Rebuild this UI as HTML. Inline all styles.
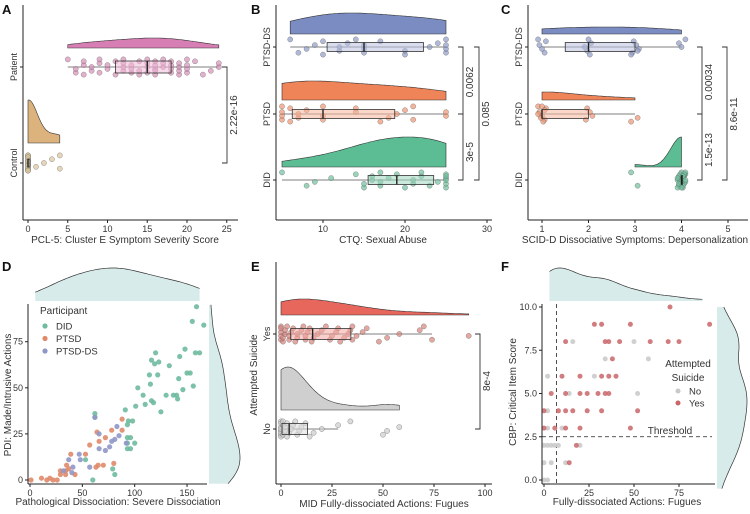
<!DOCTYPE html>
<html><head><meta charset="utf-8">
<style>
html,body{margin:0;padding:0;background:#fff;}
svg{display:block;font-family:"Liberation Sans",sans-serif;}
</style></head>
<body>
<svg id="fig" width="750" height="514" viewBox="0 0 750 514" xmlns="http://www.w3.org/2000/svg"></svg>
<script>
// ---------- DATA ----------
const aGroups = ["Patient","Control"];
const aPatient = [5,6,6,7,7,7,8,8,9,9,9,10,10,11,11,12,12,12,12,13,13,13,14,14,14,15,15,15,15,16,16,16,16,16,17,17,17,18,18,18,18,19,19,19,19,20,20,20,20,21,22,23,24,24];
const aControl = [0,0,0,0,0,0,0,0,0,0,0,0,0,0,0,1,2,3,4,4];
const aP = ["2.22e-16"];
const bGroups = ["PTSD-DS","PTSD","DID"];
const bDS = [6,7,8,9,10,10,12,12,13,14,15,15,15,17,20,20,23,24,25,25,25,25];
const bPTSD = [5,5,5,5,6,6,7,7,8,10,10,10,14,14,17,18,19,20,21,21,25,25];
const bDID = [5,8,9,11,14,15,15,16,16,17,17,17,18,19,20,21,21,22,22,23,24,25,25,25,25,25,25];
const bP = ["0.0062","3e-5","0.085"];
const cDS = [1,1,1,1,1,2,2,2,2,2,3,3,3,3,3,3,4,4,4];
const cPTSD = [1,1,1,1,1,1,1,1,1,1,2,2,2,2,3,3];
const cDID = [3,3,4,4,4,4,4,4,4,4,4,4,4,4,4,4,4,4,4,4,4,4,4,4,4,4,4];
const cP = ["0.00034","1.5e-13","8.6e-11"];
const dDIDx = [159,155,166,148,158,162,120,116,119,123,133,143,114,122,150,153,142,115,103,156,108,130,137,140,141,146,110,116,118,125,91,101,94,98,93,93,96,100,93,93,96,62,62,53,79,81,60];
const dDIDy = [94,86,84,71,69,69,69,65,63,64,62,67,57,57,58,58,55,52,50,51,46,46,46,46,44,49,41,43,42,37,38,40,32,32,30,23,23,20,20,17,17,36,34,11,6,3,0];
const dPTSDx = [1,11,16,19,22,26,29,29,34,35,39,34,37,43,53,57,63,65,70,66,72,78,80,88,88,64];
const dPTSDy = [0,1,0,1,0,0,3,5,5,8,14,3,6,3,14,19,7,8,8,21,23,27,9,33,27,26];
const dDSx = [37,41,47,48,40,57,62,66,66,72,76,78,81,83,85,92,32];
const dDSy = [11,7,14,11,4,7,34,25,17,16,18,21,22,29,24,20,5];
const eYes = [0,0,0,0,0,1,1,2,2,3,4,4,5,6,7,8,8,10,11,12,12,13,14,15,16,18,20,22,24,25,27,28,29,31,33,34,35,35,37,40,42,48,52,58,68,70,74,92];
const eNo = [0,0,0,0,0,0,0,0,1,1,1,2,2,3,3,4,5,6,7,8,9,10,12,14,16,20,28,34,50,52,58];
const eP = ["8e-4"];
const fYesX = [70,28,32,48,92,12,34,36,42,59,69,75,38,10,20,32,36,40,4,12,20,24,30,34,36,0,8,12,16,24,32,52,0,6,12,20,48,18,14];
const fYesY = [10,9,9,9,9,8,8,8,8,8,8,8,7,6,6,6,6,6,5,5,5,5,5,5,5,4,4,4,4,4,4,4,3,3,3,3,3,2,1];
const fNoX = [16,50,34,58,2,28,14,52,2,2,10,0,2,4,6,8,20,0,4,12,0,2];
const fNoY = [8,8,7,7,6,6,5,5,4,3,3,2,2,2,2,2,2,1,1,1,0,0];

// ---------- HELPERS ----------
const svg = document.getElementById('fig');
const NS = 'http://www.w3.org/2000/svg';
function mk(tag, attrs, name, parent){
  const el = document.createElementNS(NS, tag);
  for (const k in attrs) el.setAttribute(k, attrs[k]);
  
  
  (parent||svg).appendChild(el);
  return el;
}
function txt(x,y,s,name,opt){
  opt=opt||{};
  const t = mk('text',{x:x,y:y,'font-size':opt.fs||9,fill:opt.fill||'#333','text-anchor':opt.anchor||'middle','font-weight':opt.fw||'normal'},name);
  if(opt.rot) t.setAttribute('transform','rotate('+opt.rot+' '+x+' '+y+')');
  t.textContent = s;
  return t;
}
function line(x1,y1,x2,y2,name,opt){
  opt=opt||{};
  return mk('line',{x1:x1,y1:y1,x2:x2,y2:y2,stroke:opt.stroke||'#222','stroke-width':opt.w||1,'stroke-dasharray':opt.dash||'none'},name);
}
function quant(a,q){const s=a.slice().sort((x,y)=>x-y);const p=(s.length-1)*q;const lo=Math.floor(p);return s[lo]+(s[Math.min(lo+1,s.length-1)]-s[lo])*(p-lo);}
function kde(a,lo,hi,n,adj){
  const m=a.reduce((s,v)=>s+v,0)/a.length;
  const sd=Math.sqrt(a.reduce((s,v)=>s+(v-m)*(v-m),0)/(a.length-1))||1;
  const bw=1.06*sd*Math.pow(a.length,-0.2)*(adj||1);
  const out=[];
  for(let i=0;i<=n;i++){const x=lo+(hi-lo)*i/n;let d=0;for(const v of a){const z=(x-v)/bw;d+=Math.exp(-0.5*z*z);}out.push([x,d]);}
  return out;
}
function halfEye(a,xs,base,h,fill,name,adj){
  const lo=Math.min(...a),hi=Math.max(...a);
  const d=kde(a,lo,hi,80,adj);const mx=Math.max(...d.map(p=>p[1]));
  let p='M'+xs(lo)+','+base;
  d.forEach(q=>{p+=' L'+xs(q[0]).toFixed(1)+','+(base-h*q[1]/mx).toFixed(1);});
  p+=' L'+xs(hi)+','+base+' Z';
  mk('path',{d:p,fill:fill,stroke:'#333','stroke-width':0.6},name);
}
function marg(a,lo,hi,ps,base,h,horiz,name,adj){
  const d=kde(a,lo,hi,80,adj||0.8);const mx=Math.max(...d.map(p=>p[1]));
  let fillp,linep='';
  const pts=d.map(q=>horiz?[ps(q[0]),base-h*q[1]/mx]:[base+h*q[1]/mx,ps(q[0])]);
  linep='M'+pts.map(p=>p[0].toFixed(1)+','+p[1].toFixed(1)).join(' L');
  if(horiz) fillp=linep+' L'+ps(hi)+','+base+' L'+ps(lo)+','+base+' Z';
  else fillp=linep+' L'+base+','+ps(hi)+' L'+base+','+ps(lo)+' Z';
  mk('path',{d:fillp,fill:'#d8ebeb',stroke:'none'},name+'-fill');
  mk('path',{d:linep,fill:'none',stroke:'#333','stroke-width':0.7},name+'-line');
}
function rain(a,xs,yRow,col,boxFill,name,bh,jx){
  const q1=quant(a,0.25),md=quant(a,0.5),q3=quant(a,0.75),iqr=q3-q1;
  const wlo=Math.min(...a.filter(v=>v>=q1-1.5*iqr)),whi=Math.max(...a.filter(v=>v<=q3+1.5*iqr));
  line(xs(wlo),yRow,xs(whi),yRow,name+'-whisker',{stroke:'#555',w:0.8});
  a.forEach((v,i)=>{
    const dy=((i*7)%9-4)*1.9;
    const dx=jx?((i*5)%7-3)*jx:0;
    mk('circle',{cx:(xs(v)+dx).toFixed(1),cy:(yRow+dy).toFixed(1),r:2.6,fill:col,'fill-opacity':0.7,stroke:'#555','stroke-opacity':0.6,'stroke-width':0.5},name+'-point');
  });
  mk('rect',{x:xs(q1),y:yRow-bh/2,width:Math.max(xs(q3)-xs(q1),1),height:bh,fill:boxFill,'fill-opacity':0.55,stroke:'#333','stroke-width':0.8},name+'-box');
  line(xs(md),yRow-bh/2,xs(md),yRow+bh/2,name+'-median',{w:1.4});
}
function axes(x0,yTop,yBot,xRight,name){
  line(x0,yTop,x0,yBot,name+'-y-axis',{w:1});
  line(x0,yBot,xRight,yBot,name+'-x-axis',{w:1});
}
function xticks(vals,xs,yBot,name){
  vals.forEach(v=>{line(xs(v),yBot,xs(v),yBot+3,name+'-x-tick');txt(xs(v),yBot+12,String(v),name+'-x-tick-label');});
}
function yticksNum(vals,labels,ys,x0,name){
  vals.forEach((v,i)=>{line(x0-3,ys(v),x0,ys(v),name+'-y-tick');txt(x0-5,ys(v)+3,labels[i],name+'-y-tick-label',{anchor:'end'});});
}
function ycat(labels,rows,x0,name){
  labels.forEach((l,i)=>{line(x0-3,rows[i],x0,rows[i],name+'-y-tick');txt(x0-6,rows[i],l,name+'-y-tick-label',{rot:-90});});
}
function bracket(x,y1,y2,lab,lx,ly,name){
  mk('path',{d:'M'+(x-5)+','+y1+' L'+x+','+y1+' L'+x+','+y2+' L'+(x-5)+','+y2,fill:'none',stroke:'#333','stroke-width':0.9},name+'-bracket');
  txt(lx,ly,lab,name+'-p-value',{fs:10,rot:-90});
}
function letter(x,y,s){txt(x,y,s,'panel-label-'+s.toLowerCase(),{fs:13,fw:'bold',anchor:'start',fill:'#111'});}

// ---------- PANEL A ----------
letter(2,14,'A');
const xA=v=>28+7.95*v;
const rowsA=[67,163];
halfEye(aPatient,xA,48,10,'#d77fb4','a-density-patient',1.3);
halfEye(aControl,xA,143,43,'#dcb27d','a-density-control',1.4);
rain(aPatient,xA,rowsA[0],'#d78fb8','#f2b9d8','a-patient',12);
rain(aControl,xA,rowsA[1],'#d8c49a','#e8d3a9','a-control',8);
axes(23,5,220,238,'a');
xticks([0,5,10,15,20,25],xA,220,'a');
ycat(aGroups,rowsA,23,'a');
bracket(227,rowsA[0],rowsA[1],aP[0],237,115,'a');
txt(125,243,'PCL-5: Cluster E Symptom Severity Score','a-x-axis-title',{fs:10});

// ---------- PANEL B ----------
letter(251,14,'B');
const xB=v=>282+8.2*(v-5);
const rowsB=[47,114,180];
halfEye(bDS,xB,34,21,'#7b8cc2','b-density-ptsd-ds',1.4);
halfEye(bPTSD,xB,100,19,'#ef8458','b-density-ptsd',1.4);
halfEye(bDID,xB,167,30,'#5cbd94','b-density-did',1.3);
rain(bDS,xB,rowsB[0],'#8e9bc8','#b9c1e0','b-ptsd-ds',9);
rain(bPTSD,xB,rowsB[1],'#ec9472','#f6b79d','b-ptsd',9);
rain(bDID,xB,rowsB[2],'#6fbf9c','#9fd6bd','b-did',9);
axes(276,5,220,492,'b');
xticks([10,20,30],xB,220,'b');
ycat(bGroups,rowsB,276,'b');
bracket(463,rowsB[0],rowsB[1],bP[0],473,82,'b-ds-ptsd');
bracket(463,rowsB[1],rowsB[2],bP[1],473,152,'b-ptsd-did');
bracket(479,rowsB[0],rowsB[2],bP[2],489,114,'b-ds-did');
txt(383,243,'CTQ: Sexual Abuse','b-x-axis-title',{fs:10});

// ---------- PANEL C ----------
letter(501,14,'C');
const xC=v=>542+46.5*(v-1);
halfEye(cDS,xC,34,7,'#7b8cc2','c-density-ptsd-ds',1.3);
halfEye(cPTSD,xC,100,8,'#ef8458','c-density-ptsd',1.3);
halfEye(cDID,xC,167,30,'#5cbd94','c-density-did',1.6);
rain(cDS,xC,rowsB[0],'#8e9bc8','#b9c1e0','c-ptsd-ds',9,1.3);
rain(cPTSD,xC,rowsB[1],'#ec9472','#f6b79d','c-ptsd',9,1.3);
rain(cDID,xC,rowsB[2],'#6fbf9c','#9fd6bd','c-did',9,1.3);
axes(528,5,220,748,'c');
xticks([1,2,3,4,5],xC,220,'c');
ycat(bGroups,rowsB,528,'c');
bracket(702,rowsB[0],rowsB[1],cP[0],712,82,'c-ds-ptsd');
bracket(702,rowsB[1],rowsB[2],cP[1],712,150,'c-ptsd-did');
bracket(727,rowsB[0],rowsB[2],cP[2],737,114,'c-ds-did');
txt(635,243,'SCID-D Dissociative Symptoms: Depersonalization','c-x-axis-title',{fs:10});

// ---------- PANEL D ----------
letter(2,271,'D');
const xD=v=>30+1.047*v, yD=v=>480-1.844*v;
const allDx=dDIDx.concat(dPTSDx,dDSx), allDy=dDIDy.concat(dPTSDy,dDSy);
marg(allDx,5,162,xD,301,33,true,'d-top-density',1.2);
marg(allDy,-2,95,yD,209,31,false,'d-right-density',0.9);
[[dDIDx,dDIDy,'#6fbb9e','d-did-point'],[dPTSDx,dPTSDy,'#e08a6a','d-ptsd-point'],[dDSx,dDSy,'#8f97c8','d-ptsd-ds-point']].forEach(g=>{
  g[0].forEach((v,i)=>{mk('circle',{cx:xD(v).toFixed(1),cy:yD(g[1][i]).toFixed(1),r:2.6,fill:g[2],'fill-opacity':0.9},g[3]);});
});
axes(28,304,484,207,'d');
xticks([0,50,100,150],xD,484,'d');
yticksNum([0,25,50,75],['0','25','50','75'],yD,28,'d');
txt(40,314,'Participant','d-legend-title',{fs:10,anchor:'start'});
[['DID','#6fbb9e'],['PTSD','#e08a6a'],['PTSD-DS','#8f97c8']].forEach((e,i)=>{
  mk('circle',{cx:45,cy:326+i*12.5,r:2.6,fill:e[1]},'d-legend-key');
  txt(56,329.5+i*12.5,e[0],'d-legend-entry',{fs:9.5,anchor:'start'});
});
txt(118,505,'Pathological Dissociation: Severe Dissociation','d-x-axis-title',{fs:10});
txt(11,395,'PDI: Made/Intrusive Actions','d-y-axis-title',{fs:10,rot:-90});

// ---------- PANEL E ----------
letter(251,271,'E');
const xE=v=>281+2.04*v;
const rowsE=[334,429];
halfEye(eYes,xE,315,16,'#e8675c','e-density-yes',1.2);
halfEye(eNo,xE,410,43,'#cfcfcf','e-density-no',0.9);
rain(eYes,xE,rowsE[0],'#d8837c','#f2a7a1','e-yes',11);
rain(eNo,xE,rowsE[1],'#cccccc','#dddddd','e-no',11);
axes(276,262,484,492,'e');
xticks([0,25,50,75,100],xE,484,'e');
ycat(['Yes','No'],rowsE,276,'e');
bracket(480,rowsE[0],rowsE[1],eP[0],490,381,'e');
txt(384,507,'MID Fully-dissociated Actions: Fugues','e-x-axis-title',{fs:10});
txt(257,375,'Attempted Suicide','e-y-axis-title',{fs:10,rot:-90});

// ---------- PANEL F ----------
letter(501,271,'F');
const xF=v=>544+1.8*v, yF=v=>480-17.3*v;
const allFx=fYesX.concat(fNoX), allFy=fYesY.concat(fNoY);
marg(allFx,3,88,xF,301,33,true,'f-top-density');
marg(allFy,-0.5,10,yF,717,30,false,'f-right-density');
line(542,yF(2.5),712,yF(2.5),'f-threshold-line',{dash:'4,3',w:0.8});
line(xF(7),304,xF(7),484,'f-cutoff-line',{dash:'4,3',w:0.8});
txt(670,434,'Threshold','f-threshold-label',{fs:10});
fNoX.forEach((v,i)=>{mk('circle',{cx:xF(v).toFixed(1),cy:yF(fNoY[i]).toFixed(1),r:2.5,fill:'#c8c8c8','fill-opacity':0.85},'f-no-point');});
fYesX.forEach((v,i)=>{mk('circle',{cx:xF(v).toFixed(1),cy:yF(fYesY[i]).toFixed(1),r:2.5,fill:'#c9666a','fill-opacity':0.85},'f-yes-point');});
axes(542,304,484,715,'f');
xticks([0,25,50,75],xF,484,'f');
yticksNum([0,2.5,5,7.5,10],['0.0','2.5','5.0','7.5','10.0'],yF,542,'f');
txt(688,367,'Attempted','f-legend-title',{fs:10});
txt(688,381,'Suicide','f-legend-title-2',{fs:10});
mk('circle',{cx:678,cy:391,r:2.5,fill:'#c8c8c8'},'f-legend-key-no');
txt(689,394.5,'No','f-legend-entry-no',{fs:9.5,anchor:'start'});
mk('circle',{cx:678,cy:403,r:2.5,fill:'#c9666a'},'f-legend-key-yes');
txt(689,406.5,'Yes','f-legend-entry-yes',{fs:9.5,anchor:'start'});
txt(627,505,'Fully-dissociated Actions: Fugues','f-x-axis-title',{fs:10});
txt(516,392,'CBP: Critical Item Score','f-y-axis-title',{fs:10,rot:-90});
</script>
</body></html>
